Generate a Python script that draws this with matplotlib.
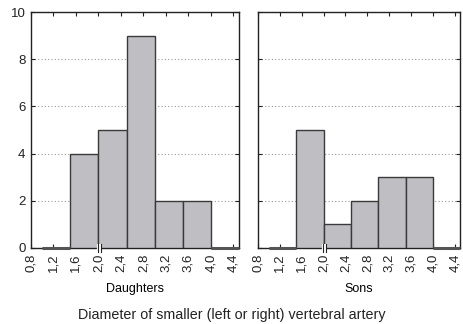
import numpy as np
import matplotlib
matplotlib.use("Agg")
import matplotlib.pyplot as plt

plt.rcParams['font.family'] = ['Liberation Sans', 'DejaVu Sans']

# histogram bins (diameter, mm) and counts
bin_edges = [1.0, 1.5, 2.0, 2.5, 3.0, 3.5, 4.0, 4.5]
daughters = [0, 4, 5, 9, 2, 2, 0]
sons = [0, 5, 1, 2, 3, 3, 0]
tick_vals = [0.8, 1.2, 1.6, 2.0, 2.4, 2.8, 3.2, 3.6, 4.0, 4.4]
tick_labels = ['0,8', '1,2', '1,6', '2,0', '2,4', '2,8', '3,2', '3,6', '4,0', '4,4']
panel_names = ['Daughters', 'Sons']

fig = plt.figure(figsize=(4.64, 3.24), dpi=100)
ax1 = fig.add_axes([0.0668, 0.2346, 0.448, 0.728])
ax2 = fig.add_axes([0.556, 0.2346, 0.436, 0.728])

edge_col = '#3a3a3a'
for ax, counts, name in zip([ax1, ax2], [daughters, sons], panel_names):
    lefts = np.array(bin_edges[:-1])
    widths = np.diff(bin_edges)
    ax.bar(lefts, counts, width=widths, align='edge', color='#bfbfc3',
           edgecolor=edge_col, linewidth=1.0, zorder=3)
    # empty bins show as a thicker baseline
    for l, w, c in zip(lefts, widths, counts):
        if c == 0:
            ax.plot([l, l + w], [0, 0], color='#555555', linewidth=2.2,
                    clip_on=False, zorder=4, solid_capstyle='butt')
    ax.set_xlim(0.8, 4.5)
    ax.set_ylim(0, 10)
    ax.set_xticks(tick_vals)
    ax.set_xticklabels(tick_labels, rotation=90, fontsize=9.5)
    ax.set_yticks([0, 2, 4, 6, 8, 10])
    ax.yaxis.grid(True, linestyle=(0, (1, 2)), color='#999999', linewidth=0.8)
    ax.tick_params(direction='in', length=3, width=0.8, top=True, right=True,
                   labelsize=9.5, colors='#222222', pad=4)
    for s in ax.spines.values():
        s.set_color('#222222')
        s.set_linewidth(1.0)
    ax.set_xlabel(name, fontsize=9, labelpad=8)
    # axis break mark
    ax.plot([2.015, 2.015], [-0.15, 0.15], color='white', linewidth=3,
            clip_on=False, zorder=5, solid_capstyle='butt')
    ax.plot([1.99, 1.99], [-0.18, 0.18], color='#222222', linewidth=0.8,
            clip_on=False, zorder=6)
    ax.plot([2.04, 2.04], [-0.18, 0.18], color='#222222', linewidth=0.8,
            clip_on=False, zorder=6)

ax2.tick_params(labelleft=False)

fig.text(0.5, 0.028, 'Diameter of smaller (left or right) vertebral artery',
         ha='center', va='center', fontsize=10.3, color='#222222')

fig.savefig('out.png', dpi=100)
